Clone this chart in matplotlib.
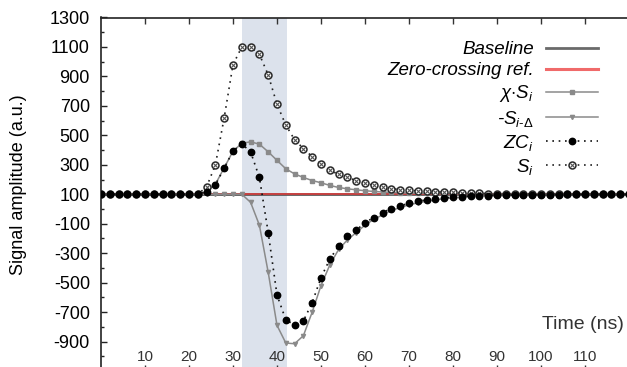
import numpy as np
import matplotlib
matplotlib.use("Agg")
import matplotlib.pyplot as plt
from matplotlib.ticker import MultipleLocator
from matplotlib.lines import Line2D

plt.rcParams['font.family'] = ['Liberation Sans', 'DejaVu Sans']
plt.rcParams['mathtext.fontset'] = 'custom'
plt.rcParams['mathtext.rm'] = 'Liberation Sans'
plt.rcParams['mathtext.it'] = 'Liberation Sans:italic'
plt.rcParams['mathtext.sf'] = 'Liberation Sans'
plt.rcParams['axes.unicode_minus'] = False

# ---- data -------------------------------------------------------------
time_ns = [0, 2, 4, 6, 8, 10, 12, 14, 16, 18, 20, 22, 24, 26, 28, 30, 32, 34,
           36, 38, 40, 42, 44, 46, 48, 50, 52, 54, 56, 58, 60, 62, 64, 66, 68,
           70, 72, 74, 76, 78, 80, 82, 84, 86, 88, 90, 92, 94, 96, 98, 100,
           102, 104, 106, 108, 110, 112, 114, 116, 118, 120]

baseline_level = 100

# S_i : raw signal samples
signal = [100] * 12 + [
    150, 300, 620, 980, 1100, 1100, 1050, 910, 710, 570,
    470, 410, 355, 305, 262, 236, 216, 192, 176, 160,
    148, 138, 132, 127, 123, 120, 117, 114, 112, 110,
    108, 106, 105, 104, 104, 103, 103, 102, 102, 102,
    101] + [101, 101, 101, 100, 100, 100, 100, 100]

# chi * S_i : attenuated signal
scaled = [100] * 12 + [
    118, 168, 280, 392, 446, 456, 440, 388, 330, 273,
    238, 214, 193, 178, 160, 146, 137, 130, 124, 119,
    115, 112, 110, 108, 107, 106, 105, 104, 104, 103,
    103, 102, 102, 101, 101, 101, 101, 101, 101, 100,
    100] + [100] * 8

# -S_{i-Delta} : inverted, delayed signal
delayed_inv = [100] * 17 + [
    45, -110, -430, -790, -910, -915, -860, -700, -520, -380,
    -275, -210, -160, -110, -70, -40, -10, 10, 28, 42,
    52, 62, 70, 75, 80, 84, 87, 89, 91, 92,
    93, 94, 95, 96, 97, 97, 98, 98, 98, 99,
    99, 99, 99, 99]

# ZC_i : zero-crossing signal
zero_cross = [100] * 12 + [
    118, 165, 277, 394, 442, 388, 214, -160, -584, -753,
    -787, -760, -635, -466, -341, -251, -183, -145, -92, -58,
    -24, 3, 21, 39, 54, 61, 71, 76, 80, 84,
    87, 89, 91, 93, 94, 95, 96, 97, 97, 98,
    98, 99, 99, 99, 100, 100, 100, 100, 100]

window = [32, 42.2]

x_ticks = [10, 20, 30, 40, 50, 60, 70, 80, 90, 100, 110]
y_ticks = [-900, -700, -500, -300, -100, 100, 300, 500, 700, 900, 1100, 1300]

# ---- figure -----------------------------------------------------------
W, H = 627, 367
fig = plt.figure(figsize=(W / 100, H / 100), dpi=100)
ax_left, ax_right = 101 / W, 629 / W
ax_top, ax_bottom = 1 - 17.5 / H, 1 - 371 / H
ax = fig.add_axes([ax_left, ax_bottom, ax_right - ax_left, ax_top - ax_bottom])
ax.set_xlim(0, 120)
ax.set_ylim(-1100, 1300)

ax.axvspan(window[0], window[1], color='#dce2ec', lw=0, zorder=0)

ax.axhline(baseline_level, color='#5a5a5a', lw=2.0, zorder=2)
ax.axhline(baseline_level, color='#e23a3a', lw=1.1, zorder=2.1)

dots = (0, (1, 2.8))
ax.plot(time_ns, scaled, color='#8a8a8a', lw=1.1, marker='s', ms=3.0,
        mfc='#8a8a8a', mec='#8a8a8a', zorder=3)
ax.plot(time_ns, delayed_inv, color='#8a8a8a', lw=1.1, marker='v', ms=3.0,
        mfc='#8a8a8a', mec='#8a8a8a', zorder=3)
ax.plot(time_ns, signal, color='#222222', lw=1.2, ls=dots,
        marker='o', ms=5.0, mfc='white', mec='#2a2a2a', mew=1.1, zorder=4)
ax.plot(time_ns, signal, ls='none', marker='x', ms=2.3, mec='#555555',
        mew=0.8, zorder=4.1)
ax.plot(time_ns, zero_cross, color='#111111', lw=1.2, ls=dots,
        marker='o', ms=4.6, mfc='black', mec='black', zorder=5)

# ---- axes styling -----------------------------------------------------
for side in ('left', 'top', 'right', 'bottom'):
    ax.spines[side].set_linewidth(1.2)
    ax.spines[side].set_color('#222222')

ax.set_yticks(y_ticks)
ax.yaxis.set_minor_locator(MultipleLocator(100))
ax.set_xticks(x_ticks)
ax.tick_params(axis='y', which='major', direction='in', length=4.5, width=1,
               labelsize=13, pad=8, colors='#222222', labelcolor='black')
ax.tick_params(axis='y', which='minor', direction='in', length=2.5, width=1,
               colors='#222222')
ax.tick_params(axis='x', which='major', direction='in', length=4.5, width=1,
               top=True, bottom=True, labelsize=11, pad=-15,
               colors='#333333', labelcolor='#333333')

ax.set_xlabel('Time (ns)', fontsize=14, color='#333333', loc='right')
ax.xaxis.set_label_coords((624 - 101) / 528, (371 - 316) / 353.5)
ax.set_ylabel('Signal amplitude (a.u.)', fontsize=13)
ax.yaxis.set_label_coords((27 - 101) / 528, (371 - 185) / 353.5)

# ---- legend -----------------------------------------------------------
h_base = Line2D([], [], color='#6a6a6a', lw=2.0)
h_ref = Line2D([], [], color='#f06a6a', lw=2.2)
h_scaled = Line2D([], [], color='#8a8a8a', lw=1.1, marker='s', ms=3.0,
                  mfc='#8a8a8a', mec='#8a8a8a')
h_delay = Line2D([], [], color='#8a8a8a', lw=1.1, marker='v', ms=3.0,
                 mfc='#8a8a8a', mec='#8a8a8a')
h_zc = Line2D([], [], color='#111111', lw=1.2, ls=dots, marker='o',
              ms=4.6, mfc='black', mec='black')
h_sig = (Line2D([], [], color='#222222', lw=1.2, ls=dots, marker='o',
                ms=5.0, mfc='white', mec='#2a2a2a', mew=1.1),
         Line2D([], [], ls='none', marker='x', ms=2.3, mec='#555555', mew=0.8))

labels = ['Baseline', 'Zero-crossing ref.', r'$\chi{\cdot}S_i$',
          r'-$S_{i\text{-}\Delta}$', r'$ZC_i$', r'$S_i$']
leg = ax.legend([h_base, h_ref, h_scaled, h_delay, h_zc, h_sig], labels,
                loc='upper right', bbox_to_anchor=(598 / W, 1 - 41 / H),
                bbox_transform=fig.transFigure, frameon=False,
                markerfirst=False, borderpad=0, borderaxespad=0,
                handlelength=2.8, handletextpad=0.62, labelspacing=0.22,
                prop={'size': 13.5, 'style': 'italic'})
for txt in leg.get_texts():
    txt.set_ha('right')

fig.savefig('out.png', dpi=100)
